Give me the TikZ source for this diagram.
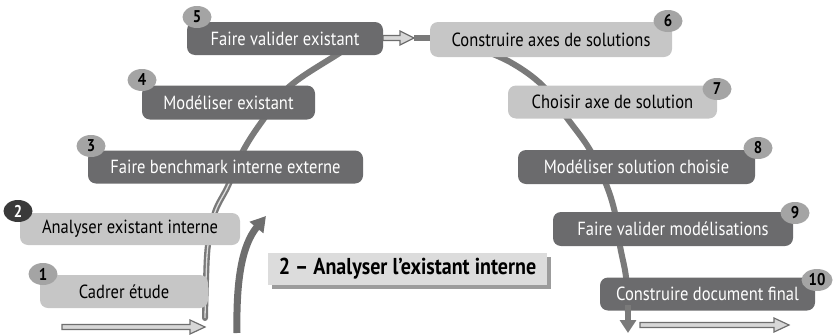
\documentclass[tikz,border=0pt]{standalone}
\usepackage{fontspec}
\setmainfont{PT Sans}[FakeStretch=0.87]
\usetikzlibrary{arrows.meta,shapes.geometric}
\definecolor{boxdark}{HTML}{6B6B6D}
\definecolor{boxlight}{HTML}{C6C6C6}
\definecolor{badgelight}{HTML}{A4A4A4}
\definecolor{badgedark}{HTML}{3A3A3A}
\definecolor{spine}{HTML}{7A7A7A}
\definecolor{titlefill}{HTML}{DCDCDC}
\definecolor{titleshadow}{HTML}{9C9C9C}
\tikzset{
  stepdark/.style={fill=boxdark, text=white, rounded corners=8pt, inner sep=0pt,
    font=\fontsize{19}{22}\selectfont},
  steplight/.style={fill=boxlight, text=black, rounded corners=8pt, inner sep=0pt,
    font=\fontsize{19}{22}\selectfont},
  badge/.style={ellipse, fill=badgelight, text=black, inner sep=0pt,
    minimum width=29pt, minimum height=22pt, font=\bfseries\fontsize{17}{18}\selectfont},
  badgeblack/.style={badge, fill=badgedark, text=white},
  spineline/.style={draw=spine, line width=6pt, line cap=round},
  hollowarrow/.style={fill=boxlight!70, draw=spine!90!black, line width=1.2pt, line join=miter},
}
\begin{document}
\begin{tikzpicture}[x=1pt,y=-1pt]
\useasboundingbox (0,0) rectangle (833,335);

% spine coordinates, left ascending branch
\coordinate (l0) at (205,318);
\coordinate (l1) at (206,280);
\coordinate (l2) at (208,245);
\coordinate (l3) at (215,212);
\coordinate (l4) at (228,186);
\coordinate (l5) at (243,151);
\coordinate (l6) at (263,120);
\coordinate (l7) at (290,86);
\coordinate (l8) at (338,54);
\coordinate (l9) at (360,40);
% right descending branch
\coordinate (r0) at (470,45);
\coordinate (r1) at (510,62);
\coordinate (r2) at (543,86);
\coordinate (r3) at (567,118);
\coordinate (r4) at (590,150);
\coordinate (r5) at (606,184);
\coordinate (r6) at (615,213);
\coordinate (r7) at (620,246);
\coordinate (r8) at (626,277);
\coordinate (r9) at (628,312);

% spine lines behind the steps
\draw[spineline] plot[smooth, tension=0.6] coordinates {(l0) (l1) (l2) (l3) (l4) (l5) (l6) (l7) (l8) (l9)};
\draw[draw=boxlight!60, line width=1.3pt] plot[smooth, tension=0.6] coordinates {(l0) (l1) (l2) (l3) (l4) (l5)};
\draw[spineline] plot[smooth, tension=0.6] coordinates {(r0) (r1) (r2) (r3) (r4) (r5) (r6) (r7) (r8) (r9)};

% steps
\node[steplight, minimum width=168pt, minimum height=33pt] (s1) at (124,291.5) {Cadrer étude};
\node[steplight, minimum width=220pt, minimum height=32pt] (s2) at (130,229) {Analyser existant interne};
\node[stepdark, minimum width=275pt, minimum height=33pt] (s3) at (225.5,167) {Faire benchmark interne externe};
\node[stepdark, minimum width=173pt, minimum height=34pt] (s4) at (228.5,102.5) {Modéliser existant};
\node[stepdark, minimum width=196pt, minimum height=33pt] (s5) at (285,38.5) {Faire valider existant};
\node[steplight, minimum width=242pt, minimum height=35pt] (s6) at (551,39.5) {Construire axes de solutions};
\node[steplight, minimum width=209pt, minimum height=33pt] (s7) at (612.5,102) {Choisir axe de solution};
\node[stepdark, minimum width=237pt, minimum height=34pt] (s8) at (636.5,167) {Modéliser solution choisie};
\node[stepdark, minimum width=240pt, minimum height=34pt] (s9) at (673,229) {Faire valider modélisations};
\node[stepdark, minimum width=215pt, minimum height=33pt] (s10) at (707.5,294) {Construire document final};

% step numbers
\node[badge] (n1) at (43,274) {1};
\node[badgeblack] (n2) at (18,211) {2};
\node[badge] (n3) at (91,146) {3};
\node[badge] (n4) at (142,80) {4};
\node[badge] (n5) at (197,17) {5};
\node[badge] (n6) at (668,21) {6};
\node[badge] (n7) at (717,89) {7};
\node[badge] (n8) at (758,148) {8};
\node[badge] (n9) at (795,213) {9};
\node[badge, minimum width=31pt] (n10) at (817,280) {10};

% link from phase 1 to phase 2
\draw[hollowarrow] (383,35.5) -- (400,35.5) -- (400,31) -- (414,38) -- (400,45) -- (400,40.5) -- (383,40.5) -- cycle;
\coordinate (m1) at (414,38);
\draw[spine, line width=6pt] (m1) -- (s6.west |- m1);

% entry arrow bottom left
\draw[hollowarrow] (62,324.5) -- (190,324.5) -- (190,320) -- (205,327) -- (190,334) -- (190,329.5) -- (62,329.5) -- cycle;

% exit arrows bottom right
\draw[hollowarrow] (640,322.5) -- (774,322.5) -- (774,318) -- (789,325) -- (774,332) -- (774,327.5) -- (640,327.5) -- cycle;
\coordinate (d0) at (628,305);
\coordinate (d1) at (628,333);
\draw[spine, line width=6pt, -{Triangle[width=16pt,length=13pt]}] (d0) -- (d1);

% progress arrow
\coordinate (p0) at (237,333);
\coordinate (p1) at (266,216);
\draw[spine!90!black, line width=7pt, -{Triangle[width=17pt,length=15pt]}] (p0) .. controls (236,280) and (242,245) .. (p1);

% title
\node[fill=titleshadow, minimum width=279pt, minimum height=32pt, inner sep=0pt] (tsh) at (411.5,272.5) {};
\node[fill=titlefill, minimum width=279pt, minimum height=32pt, inner sep=0pt,
  font=\bfseries\fontsize{23}{26}\selectfont] (title) at (407.5,268.5) {2 – Analyser l’existant interne};
\end{tikzpicture}
\end{document}
